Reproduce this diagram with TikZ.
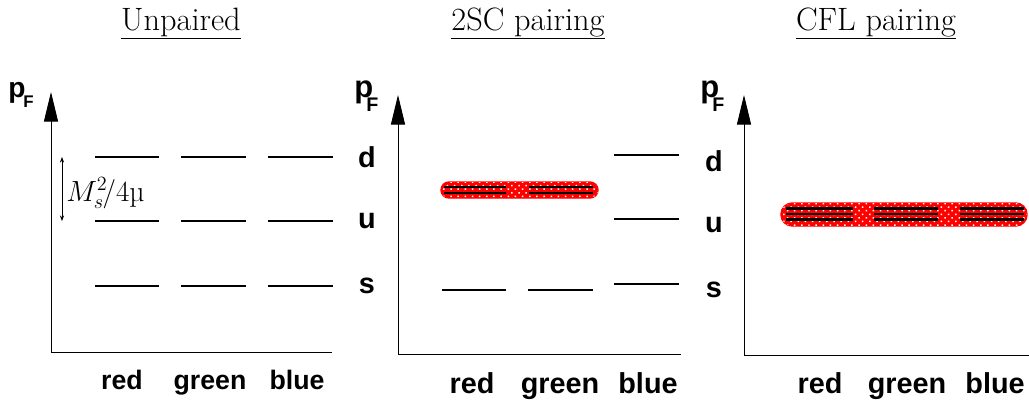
\documentclass[tikz,border=0pt]{standalone}
\usepackage{fontspec}
\newfontfamily\helv{Liberation Sans}
\usetikzlibrary{arrows.meta,patterns.meta}
\begin{document}
\begin{tikzpicture}
[x=0.025cm,y=-0.025cm,
  axisdecorate/.style={line width=0.6pt,-{Triangle[length=21pt,width=10pt]}},
  basedecorate/.style={line width=0.6pt,-},
  leveldecorate/.style={line width=1.4pt},
  innerdecorate/.style={line width=1.6pt},
  banddecorate/.style={draw=red,line width=1pt,fill=red},
  meshdecorate/.style={pattern={Dots[distance=3.6pt,radius=0.75pt,angle=45]},pattern color=white},
  titledecorate/.style={font=\fontsize{23}{27}\selectfont,anchor=base,inner sep=0pt},
  colourdecorate/.style={font=\helv\bfseries\fontsize{20.5}{24}\selectfont,anchor=base,inner sep=0pt},
  pdecorate/.style={font=\helv\bfseries\fontsize{22}{26}\selectfont,anchor=base west,inner sep=0pt},
  fdecorate/.style={font=\helv\bfseries\fontsize{14}{16}\selectfont,anchor=base west,inner sep=0pt}]
\useasboundingbox (0,0) rectangle (1029,404);
% titles
\node (title1) at (181,30) [titledecorate] {\underline{Unpaired}};
\node (title2) at (528,30) [titledecorate] {\underline{2SC pairing}};
\node (title3) at (876,30) [titledecorate] {\underline{CFL pairing}};
% axes
\coordinate (o1) at (51,352);
\coordinate (t1) at (51,92);
\coordinate (e1) at (332,352);
\coordinate (o2) at (398,354);
\coordinate (t2) at (398,95);
\coordinate (e2) at (681,354);
\coordinate (o3) at (744,355);
\coordinate (t3) at (744,95);
\coordinate (e3) at (1029,355);
\draw[axisdecorate] (o1) -- (t1);
\draw[basedecorate] (o1) -- (e1);
\draw[axisdecorate] (o2) -- (t2);
\draw[basedecorate] (o2) -- (e2);
\draw[axisdecorate] (o3) -- (t3);
\draw[basedecorate] (o3) -- (e3);
% p_F labels
\node (p1) at (8,97) [pdecorate,font=\helv\bfseries\fontsize{20}{24}\selectfont] {p};
\node (f1) at (23,107) [fdecorate,font=\helv\bfseries\fontsize{12}{14}\selectfont] {F};
\node (p2) at (354,97) [pdecorate] {p};
\node (f2) at (366,111) [fdecorate] {F};
\node (p3) at (700,97) [pdecorate] {p};
\node (f3) at (712,111) [fdecorate] {F};
% unpaired levels
\draw[leveldecorate] (95,157) -- (159,157);
\draw[leveldecorate] (181,157) -- (246,157);
\draw[leveldecorate] (268,157) -- (333,157);
\draw[leveldecorate] (95,221) -- (159,221);
\draw[leveldecorate] (181,221) -- (246,221);
\draw[leveldecorate] (268,221) -- (333,221);
\draw[leveldecorate] (95,286) -- (159,286);
\draw[leveldecorate] (181,286) -- (246,286);
\draw[leveldecorate] (268,286) -- (333,286);
% splitting
\coordinate (a1) at (62,157);
\coordinate (a2) at (62,221);
\draw[{Stealth[length=4pt,width=3pt]}-{Stealth[length=4pt,width=3pt]},line width=0.5pt] (a1) -- (a2);
\node (split) at (66,201) [anchor=base west,inner sep=0pt,font=\fontsize{21}{25}\selectfont] {$M_s^{2}\!\Big/4$\textmu};
% 2SC levels
\draw[leveldecorate] (614,155) -- (679,155);
\draw[leveldecorate] (614,219) -- (679,219);
\draw[leveldecorate] (614,284) -- (679,284);
\draw[leveldecorate] (442,290) -- (506,290);
\draw[leveldecorate] (528,290) -- (593,290);
\draw[banddecorate,rounded corners=0.2cm] (441,182) rectangle (598,198);
\path[meshdecorate,rounded corners=0.2cm] (441,182) rectangle (598,198);
\draw[innerdecorate] (444,187) -- (506,187);
\draw[innerdecorate] (444,193) -- (506,193);
\draw[innerdecorate] (529,187) -- (593,187);
\draw[innerdecorate] (529,193) -- (593,193);
% CFL levels
\draw[banddecorate,rounded corners=0.28cm] (781,203) rectangle (1027,226);
\path[meshdecorate,rounded corners=0.28cm] (781,203) rectangle (1027,226);
\draw[innerdecorate] (786,208.5) -- (853,208.5);
\draw[innerdecorate] (786,214) -- (853,214);
\draw[innerdecorate] (786,219.5) -- (853,219.5);
\draw[innerdecorate] (874,208.5) -- (938,208.5);
\draw[innerdecorate] (874,214) -- (938,214);
\draw[innerdecorate] (874,219.5) -- (938,219.5);
\draw[innerdecorate] (960,208.5) -- (1024,208.5);
\draw[innerdecorate] (960,214) -- (1024,214);
\draw[innerdecorate] (960,219.5) -- (1024,219.5);
% flavour labels
\node (d1) at (367,167) [colourdecorate] {d};
\node (u1) at (367,228) [colourdecorate] {u};
\node (s1) at (367,293) [colourdecorate] {s};
\node (d3) at (714,171) [colourdecorate] {d};
\node (u3) at (714,232) [colourdecorate] {u};
\node (s3) at (714,297) [colourdecorate] {s};
% colour labels
\node (red1) at (122,389) [colourdecorate,font=\helv\bfseries\fontsize{19}{22}\selectfont] {red};
\node (green1) at (210,389) [colourdecorate,font=\helv\bfseries\fontsize{19}{22}\selectfont] {green};
\node (blue1) at (297,389) [colourdecorate,font=\helv\bfseries\fontsize{19}{22}\selectfont] {blue};
\node (red2) at (472,393) [colourdecorate] {red};
\node (green2) at (560,393) [colourdecorate] {green};
\node (blue2) at (648,393) [colourdecorate] {blue};
\node (red3) at (820,393) [colourdecorate] {red};
\node (green3) at (907,393) [colourdecorate] {green};
\node (blue3) at (995,393) [colourdecorate] {blue};
\end{tikzpicture}
\end{document}
